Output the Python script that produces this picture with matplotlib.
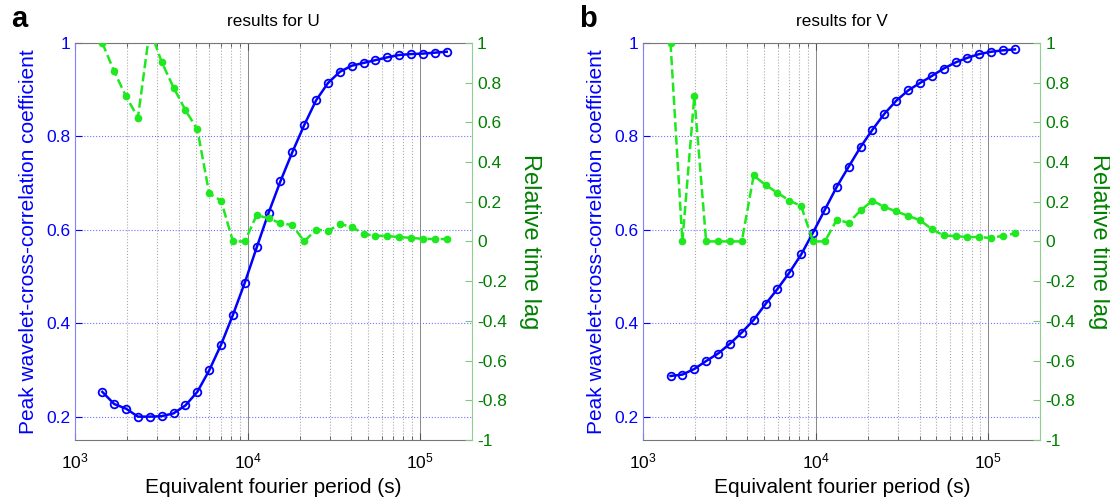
import matplotlib
matplotlib.use('Agg')
import matplotlib.pyplot as plt
from matplotlib.ticker import LogLocator, NullFormatter, MultipleLocator, FuncFormatter

plt.rcParams.update({
    'font.family': ['Liberation Sans', 'DejaVu Sans'],
    'mathtext.default': 'regular',
    'xtick.direction': 'in',
    'ytick.direction': 'in',
})

# equivalent fourier periods (s), shared by both components
PERIOD = [1439, 1686, 1976, 2315, 2713, 3178, 3724, 4364, 5113, 5991,
          7020, 8227, 9639, 11290, 13230, 15510, 18170, 21290, 24950, 29230,
          34250, 40130, 47020, 55100, 64570, 75650, 88640, 103900, 121700, 142600]

# peak wavelet cross-correlation coefficient
COEF_U = [0.253, 0.227, 0.217, 0.200, 0.200, 0.201, 0.207, 0.224, 0.253, 0.299,
          0.354, 0.418, 0.487, 0.562, 0.636, 0.704, 0.766, 0.824, 0.877, 0.914,
          0.938, 0.951, 0.957, 0.963, 0.969, 0.974, 0.976, 0.977, 0.979, 0.981]
COEF_V = [0.287, 0.290, 0.302, 0.319, 0.335, 0.356, 0.380, 0.407, 0.441, 0.473,
          0.508, 0.547, 0.594, 0.643, 0.692, 0.735, 0.777, 0.814, 0.848, 0.876,
          0.898, 0.914, 0.929, 0.945, 0.958, 0.968, 0.976, 0.981, 0.984, 0.986]

# relative time lag at the peak
LAG_U = [1.000, 0.856, 0.730, 0.624, 1.070, 0.903, 0.775, 0.661, 0.564, 0.242,
         0.205, 0.000, 0.000, 0.133, 0.116, 0.092, 0.082, 0.000, 0.060, 0.052,
         0.087, 0.074, 0.037, 0.029, 0.027, 0.022, 0.018, 0.013, 0.012, 0.012]
LAG_V = [1.000, 0.000, 0.730, 0.000, 0.000, 0.000, 0.000, 0.332, 0.284, 0.245,
         0.206, 0.178, 0.000, 0.000, 0.109, 0.094, 0.156, 0.205, 0.174, 0.151,
         0.129, 0.107, 0.062, 0.030, 0.027, 0.022, 0.022, 0.017, 0.029, 0.040]

BLUE = '#0000ff'
GREEN = '#1ee81e'
DKGREEN = '#008000'

# round away float noise like 2.2e-16 at zero
tidy = FuncFormatter(lambda v, pos: f'{round(v, 2):g}' if abs(v) > 1e-9 else '0')

fig = plt.figure(figsize=(11.1, 5.04), dpi=100)

panels = [
    ('a', 'results for U', COEF_U, LAG_U, 0.0676),
    ('b', 'results for V', COEF_V, LAG_V, 0.5795),
]

for letter, title, coef, lag, x0 in panels:
    ax = fig.add_axes([x0, 0.127, 0.3577, 0.788])
    ax.set_xscale('log')
    ax.set_xlim(1e3, 2e5)
    ax.set_ylim(0.15, 1.0)

    ax.plot(PERIOD, coef, '-o', color=BLUE, lw=1.8, ms=5.5,
            mfc='none', mew=1.3)

    ax.xaxis.set_major_locator(LogLocator(base=10))
    ax.xaxis.set_minor_locator(LogLocator(base=10, subs=range(2, 10)))
    ax.xaxis.set_minor_formatter(NullFormatter())
    ax.yaxis.set_major_locator(MultipleLocator(0.2))
    ax.yaxis.set_major_formatter(tidy)

    ax.grid(True, which='major', axis='x', color='#888888', ls='-', lw=0.7)
    ax.grid(True, which='minor', axis='x', color='#aaaaaa', ls=':', lw=0.8)
    ax.grid(True, which='major', axis='y', color='#7070ff', ls=':', lw=0.8)

    ax.tick_params(axis='x', which='both', top=True, colors='#555555',
                   labelcolor='black', labelsize=12.5, pad=8)
    ax.tick_params(axis='x', which='major', length=5)
    ax.tick_params(axis='x', which='minor', length=3)
    ax.tick_params(axis='y', colors=BLUE, labelsize=12.5, length=5, right=True)

    for side in ('top', 'bottom'):
        ax.spines[side].set_color('#777777')
    ax.spines['left'].set_color('#8080ff')
    ax.spines['right'].set_visible(False)

    ax.set_xlabel('Equivalent fourier period (s)', fontsize=15, labelpad=5)
    ax.set_ylabel('Peak wavelet-cross-correlation coefficient', fontsize=15,
                  color=BLUE, labelpad=6)
    ax.set_title(title, fontsize=12.3, pad=12)

    ax2 = ax.twinx()
    ax2.set_ylim(-1, 1)
    ax2.plot(PERIOD, lag, '--o', color=GREEN, lw=1.8, ms=4.5,
             mfc=GREEN, mec=GREEN)
    ax2.yaxis.set_major_locator(MultipleLocator(0.2))
    ax2.yaxis.set_major_formatter(tidy)
    ax2.tick_params(axis='y', colors='#80c880', labelcolor=DKGREEN,
                    labelsize=12.5, length=5)
    for side in ('top', 'bottom', 'left'):
        ax2.spines[side].set_visible(False)
    ax2.spines['right'].set_color('#90d090')
    ax2.set_ylabel('Relative time lag', fontsize=17, color=DKGREEN,
                   rotation=270, va='bottom', labelpad=9)

    fig.text(x0 - 0.058, 0.963, letter, fontsize=21, fontweight='bold',
             va='center', ha='left')

fig.savefig('out.png', dpi=100)
